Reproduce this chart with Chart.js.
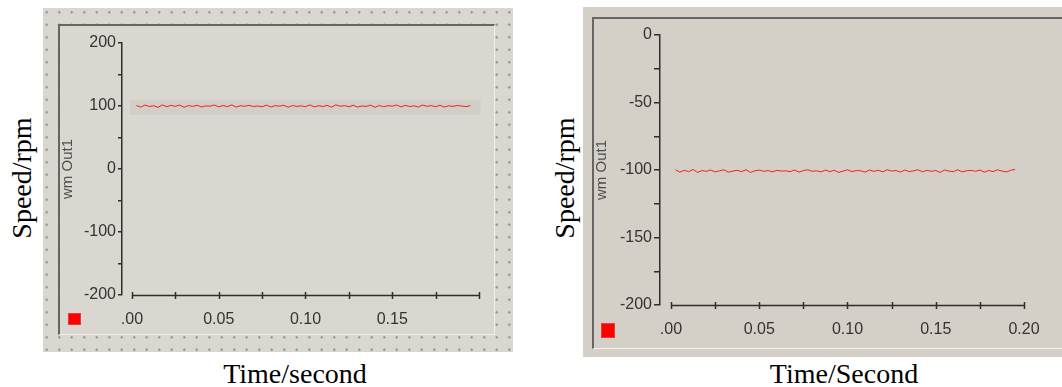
<!DOCTYPE html>
<html>
<head>
<meta charset="utf-8">
<title>Speed traces</title>
<script src="https://cdn.jsdelivr.net/npm/chart.js@4.4.0/dist/chart.umd.min.js"></script>
<style>
  html, body { margin: 0; padding: 0; background: #fff; }
  body { width: 1062px; height: 387px; position: relative; overflow: hidden; }
  .panel { position: absolute; }
  #panelL {
    left: 43px; top: 8px; width: 470px; height: 344px;
    background-color: #dad7d0;
    background-image: radial-gradient(circle, #8e8c87 0.9px, rgba(0,0,0,0) 1.4px);
    background-size: 12.5px 12.5px;
    background-position: -2.5px -2px;
  }
  #panelR { left: 583px; top: 7px; width: 479px; height: 350px; background: #d4d0c8; }
  .frame { position: absolute; box-sizing: border-box; }
  #panelL .frame {
    left: 15px; top: 16px; width: 437px; height: 311px; background: #dad7d0;
    border-top: 2px solid #656565; border-left: 2px solid #656565;
    border-right: 1px solid #f1efea; border-bottom: 1px solid #f1efea;
  }
  #panelR .frame {
    left: 9px; top: 10px; width: 470px; height: 332px;
    border-top: 2px solid #666; border-left: 2px solid #666;
    border-bottom: 1px solid #f3f1ec;
  }
  .chartbox { position: absolute; left: 0; top: 0; width: 100%; height: 100%; }
  .mark { position: absolute; background: #ff0000; box-sizing: border-box; border: 1px solid #e23c3c; }
  #panelL .mark { left: 25px; top: 305px; width: 13px; height: 12px; }
  #panelR .mark { left: 18px; top: 316px; width: 14px; height: 15px; }
  .outer {
    position: absolute; font-family: "Liberation Serif", "Times New Roman", serif;
    font-size: 28px; color: #000; white-space: nowrap; line-height: 1;
    transform: translate(-50%, -50%);
  }
  .outer.rot { transform: translate(-50%, -50%) rotate(-90deg); }
</style>
</head>
<body>

<div class="panel" id="panelL">
  <div class="frame"></div>
  <div class="chartbox"><canvas id="chartL"></canvas></div>
  <div class="mark"></div>
</div>

<div class="panel" id="panelR">
  <div class="frame"></div>
  <div class="chartbox"><canvas id="chartR"></canvas></div>
  <div class="mark"></div>
</div>

<div class="outer rot" style="left:22px; top:178px;">Speed/rpm</div>
<div class="outer" style="left:295px; top:374px;">Time/second</div>
<div class="outer rot" style="left:565px; top:178px;">Speed/rpm</div>
<div class="outer" style="left:844px; top:374px;">Time/Second</div>

<script>
'use strict';

// ── Data ─────────────────────────────────────────────────────────────────────

const time = [
  0.0025, 0.005, 0.0075, 0.01, 0.0125, 0.015, 0.0175, 0.02, 0.0225, 0.025,
  0.0275, 0.03, 0.0325, 0.035, 0.0375, 0.04, 0.0425, 0.045, 0.0475, 0.05,
  0.0525, 0.055, 0.0575, 0.06, 0.0625, 0.065, 0.0675, 0.07, 0.0725, 0.075,
  0.0775, 0.08, 0.0825, 0.085, 0.0875, 0.09, 0.0925, 0.095, 0.0975, 0.1,
  0.1025, 0.105, 0.1075, 0.11, 0.1125, 0.115, 0.1175, 0.12, 0.1225, 0.125,
  0.1275, 0.13, 0.1325, 0.135, 0.1375, 0.14, 0.1425, 0.145, 0.1475, 0.15,
  0.1525, 0.155, 0.1575, 0.16, 0.1625, 0.165, 0.1675, 0.17, 0.1725, 0.175,
  0.1775, 0.18, 0.1825, 0.185, 0.1875, 0.19, 0.1925, 0.195,
];

// forward run, ~ +100 rpm
const speedFwd = [
  100.8, 98.2, 101.6, 99.2, 100.4, 97.8, 101.8, 98.8, 101.0, 99.6,
  101.4, 98.0, 100.6, 99.4, 101.2, 98.4, 100.2, 99.8, 101.6, 98.6,
  100.8, 99.0, 101.8, 98.2, 100.4, 99.6, 101.0, 99.2, 100.0, 98.8,
  101.4, 98.4, 100.6, 99.8, 101.2, 98.0, 100.8, 99.4, 100.2, 99.0,
  101.6, 98.6, 100.4, 99.2, 101.0, 98.2, 101.8, 99.6, 100.6, 98.8,
  101.2, 98.4, 100.0, 99.4, 101.4, 98.0, 100.8, 99.0, 100.4, 99.8,
  101.6, 98.6, 101.0, 99.2, 100.2, 98.4, 101.4, 99.6, 100.6, 98.8,
  101.2, 98.2, 100.4, 99.4, 100.8, 100.0, 99.0, 100.6,
];

// reverse run, ~ -100 rpm
const speedRev = [
  -99.8, -101.6, -100.2, -101.2, -99.6, -101.8, -100.4, -101.0, -100.0, -101.4,
  -100.6, -99.8, -101.6, -100.8, -100.2, -101.2, -99.8, -101.8, -100.6, -100.0,
  -101.0, -100.4, -101.4, -100.2, -100.8, -100.6, -101.2, -100.0, -101.6, -100.4,
  -99.8, -101.0, -100.6, -101.4, -100.0, -101.2, -100.2, -101.8, -100.8, -99.8,
  -101.2, -100.4, -100.6, -101.6, -100.0, -101.0, -100.2, -101.4, -99.8, -100.8,
  -100.4, -101.6, -100.0, -101.2, -100.6, -99.8, -101.4, -100.2, -101.0, -100.4,
  -101.8, -100.0, -100.8, -101.2, -99.8, -101.4, -100.6, -100.2, -101.0, -100.0,
  -101.6, -100.4, -101.2, -99.8, -100.8, -101.4, -100.2, -99.6,
];

const seriesName = 'wm Out1';

const xTickValues  = [0, 0.025, 0.05, 0.075, 0.1, 0.125, 0.15, 0.175, 0.2];
const xMajorValues = [0, 0.05, 0.1, 0.15, 0.2];
const xLabelsLeft  = ['.00', '0.05', '0.10', '0.15', ''];
const xLabelsRight = ['.00', '0.05', '0.10', '0.15', '0.20'];

const yMajorLeft  = [200, 100, 0, -100, -200];
const yMajorRight = [0, -50, -100, -150, -200];

const bandLeft = [85.7, 109.5]; // darker strip behind the left trace

// ── Look ─────────────────────────────────────────────────────────────────────

const AXIS = '#2e2e2e';
const TEXT = '#333';
const TRACE = '#ff1a1a';
const TICK_FONT = { family: '"Liberation Sans", Arial, sans-serif', size: 16 };

// ── Plugins ──────────────────────────────────────────────────────────────────

// x axis line with ticks crossing it, from the first to the last tick value
const xAxisLine = {
  id: 'xAxisLine',
  afterDraw(chart) {
    const xs = chart.scales.x, ys = chart.scales.y;
    const ctx = chart.ctx;
    const yy = Math.round(ys.getPixelForValue(ys.min)) + 0.5;
    ctx.save();
    ctx.strokeStyle = AXIS;
    ctx.lineWidth = 1.5;
    ctx.beginPath();
    ctx.moveTo(xs.getPixelForValue(xTickValues[0]), yy);
    ctx.lineTo(xs.getPixelForValue(xTickValues[xTickValues.length - 1]), yy);
    xTickValues.forEach(v => {
      const px = Math.round(xs.getPixelForValue(v)) + 0.5;
      ctx.moveTo(px, yy - 3.5);
      ctx.lineTo(px, yy + 3.5);
    });
    ctx.stroke();
    ctx.restore();
  },
};

function bandPlugin(band) {
  return {
    id: 'band',
    beforeDatasetsDraw(chart) {
      if (!band) return;
      const xs = chart.scales.x, ys = chart.scales.y;
      const ctx = chart.ctx;
      const x0 = xs.getPixelForValue(-0.0012), x1 = xs.getPixelForValue(0.201);
      const y0 = ys.getPixelForValue(band[1]), y1 = ys.getPixelForValue(band[0]);
      ctx.save();
      ctx.fillStyle = '#d2cfc8';
      ctx.fillRect(x0, y0, x1 - x0, y1 - y0);
      ctx.restore();
    },
  };
}

// ── Chart factory ────────────────────────────────────────────────────────────

function makeChart(id, values, o) {
  const ctx = document.getElementById(id);
  return new Chart(ctx, {
    type: 'line',
    data: {
      datasets: [{
        label: seriesName,
        data: time.map((t, i) => ({ x: t, y: values[i] })),
        borderColor: TRACE,
        borderWidth: 1,
        pointRadius: 0,
        tension: 0,
        fill: false,
      }],
    },
    options: {
      animation: false,
      responsive: true,
      maintainAspectRatio: false,
      layout: { padding: { left: 0, right: o.padRight, top: o.padTop, bottom: 0 } },
      scales: {
        x: {
          type: 'linear',
          min: o.xMin, max: 0.2,
          afterBuildTicks: s => { s.ticks = xTickValues.map(v => ({ value: v })); },
          afterFit: s => { s.height = o.xHeight; },
          grid: { display: false },
          border: { display: false },
          ticks: {
            autoSkip: false, maxRotation: 0, padding: 7,
            color: TEXT, font: TICK_FONT,
            callback: v => {
              const i = xMajorValues.findIndex(m => Math.abs(m - v) < 1e-9);
              return i < 0 ? '' : o.xLabels[i];
            },
          },
        },
        y: {
          min: o.yMin, max: o.yMax,
          afterFit: s => { s.width = o.yWidth; },
          border: { display: true, color: AXIS, width: 1.5 },
          grid: { display: true, drawOnChartArea: false, drawTicks: true, tickLength: o.tickLen, color: AXIS, lineWidth: 1.5 },
          ticks: {
            stepSize: o.yStep, autoSkip: false, padding: 2,
            color: TEXT, font: TICK_FONT,
            callback: v => o.yMajor.includes(v) ? String(v) : '',
          },
          title: {
            display: true, text: seriesName, color: '#4e4e4e',
            font: { family: '"Liberation Sans", Arial, sans-serif', size: 15 },
            padding: { top: o.titlePad, bottom: 0 },
          },
        },
      },
      plugins: { legend: { display: false }, tooltip: { enabled: false } },
    },
    plugins: [bandPlugin(o.band), xAxisLine],
  });
}

// ── Initialise charts ────────────────────────────────────────────────────────

makeChart('chartL', speedFwd, {
  yMin: -200, yMax: 200, yStep: 50, yMajor: yMajorLeft,
  xMin: -0.00576, xLabels: xLabelsLeft,
  padTop: 35, padRight: 34, yWidth: 79, xHeight: 57,
  tickLen: 4, titlePad: 16, band: bandLeft,
});

makeChart('chartR', speedRev, {
  yMin: -200, yMax: 0, yStep: 25, yMajor: yMajorRight,
  xMin: -0.00623, xLabels: xLabelsRight,
  padTop: 28, padRight: 38, yWidth: 77, xHeight: 52,
  tickLen: 6, titlePad: 10, band: null,
});
</script>
</body>
</html>
